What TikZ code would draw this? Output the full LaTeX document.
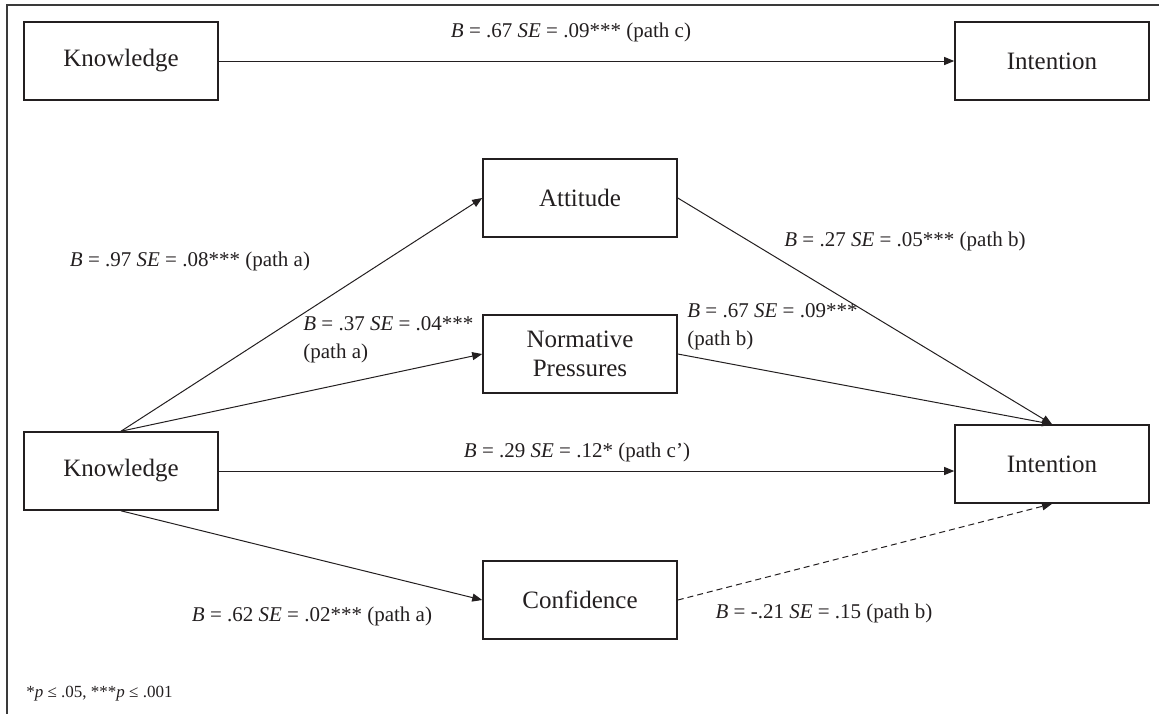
\documentclass[tikz,border=0pt]{standalone}
\usepackage{fontspec}
\setmainfont{Liberation Serif}
\usepackage{xcolor}
\usepackage{tikz}
\usetikzlibrary{arrows.meta}
\definecolor{ink}{HTML}{231F20}
\definecolor{rule}{HTML}{3A3A3A}

\begin{document}
\begin{tikzpicture}[x=0.5pt,y=-0.5pt,
  box/.style={draw=ink,line width=0.8pt,minimum width=97pt,minimum height=39pt,
    inner sep=0pt,align=center,text=ink,font=\fontsize{12.5}{14.5}\selectfont},
  lbl/.style={inner sep=0pt,text=ink,font=\fontsize{10.5}{14}\selectfont},
  link/.style={draw=ink,line width=0.5pt,-{Triangle[length=5pt,width=4pt]}}]
  \useasboundingbox (0,0) rectangle (1159,714);

  % frame (top and left only)
  \draw[rule,line width=0.9pt] (1159,5) -- (7,5) -- (7,714);

  % total effect
  \node[box] (know1) at (121,61) {Knowledge};
  \node[box] (int1) at (1052,61) {Intention};

  % mediation model
  \node[box] (know2) at (121,471) {Knowledge};
  \node[box] (att) at (580,198) {Attitude};
  \node[box] (norm) at (580,354) {Normative\\Pressures};
  \node[box] (conf) at (580,600) {Confidence};
  \node[box] (int2) at (1052,464) {Intention};

  \draw[link] (know1) -- (int1);
  \draw[link] (know2.north) -- (att.west);
  \draw[link] (know2.north) -- (norm.west);
  \draw[link] (know2.east) -- (know2.east -| int2.west);
  \draw[link] (know2.south) -- (conf.west);
  \draw[link] (att.east) -- (int2.north);
  \draw[link] (norm.east) -- (int2.north);
  \draw[link,dash pattern=on 3pt off 2pt] (conf.east) -- (int2.south);

  % coefficients
  \node[lbl] (lc) at (571,32) {\textit{B} = .67 \textit{SE} = .09*** (path c)};
  \node[lbl] (la1) at (190,261) {\textit{B} = .97 \textit{SE} = .08*** (path a)};
  \node[lbl,align=left,anchor=west] (la2) at (303,340) {\textit{B} = .37 \textit{SE} = .04***\\(path a)};
  \node[lbl] (lb1) at (905,241) {\textit{B} = .27 \textit{SE} = .05*** (path b)};
  \node[lbl,align=left,anchor=west] (lb2) at (687,327) {\textit{B} = .67 \textit{SE} = .09***\\(path b)};
  \node[lbl] (lcp) at (577,452) {\textit{B} = .29 \textit{SE} = .12* (path c’)};
  \node[lbl] (la3) at (312,616) {\textit{B} = .62 \textit{SE} = .02*** (path a)};
  \node[lbl] (lb3) at (824,613) {\textit{B} = -.21 \textit{SE} = .15 (path b)};

  \node[lbl,anchor=west,font=\fontsize{8.5}{10}\selectfont] (note) at (26,694)
    {*\textit{p} ≤ .05, ***\textit{p} ≤ .001};
\end{tikzpicture}
\end{document}
